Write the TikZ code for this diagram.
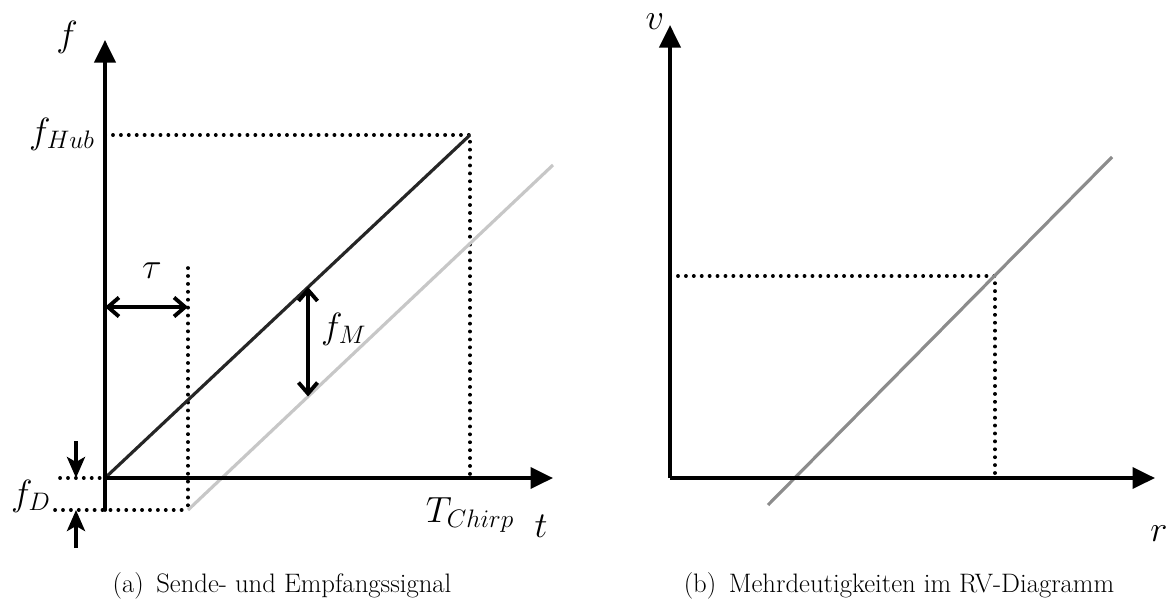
\documentclass[tikz,border=0pt]{standalone}
\usetikzlibrary{arrows.meta}

\tikzset{
  achse/.style={line width=2.2pt, -{Triangle[length=0.45cm, width=0.42cm]}},
  rampe/.style={line width=1.8pt},
  punkte/.style={line width=2.1pt, line cap=round, dash pattern=on 0.1pt off 4.4pt},
  masz/.style={line width=1.9pt, {Straight Barb[length=0.22cm, width=0.38cm, line width=2.2pt]}-{Straight Barb[length=0.22cm, width=0.38cm, line width=2.2pt]}},
  pfeil/.style={line width=2.2pt, -{Stealth[length=0.42cm, width=0.36cm, inset=0.1cm]}},
  gross/.style={font=\fontsize{21}{25}\selectfont},
  untertitel/.style={font=\fontsize{15.2}{18}\selectfont, anchor=base}
}

\begin{document}
\begin{tikzpicture}

\useasboundingbox (0,0) rectangle (23.36,12.08);

% Parameter
\def\sx{2.10}
\def\sy{2.52}

% ---------- (a) Sende- und Empfangssignal ----------
\coordinate (O) at (\sx,\sy);
\coordinate (yunten) at (\sx,1.88);
\coordinate (yoben) at (\sx,11.28);
\coordinate (xende) at (11.06,\sy);
\coordinate (hub) at (\sx,9.38);
\coordinate (spitze) at (9.40,9.38);
\coordinate (tchirp) at (9.40,\sy);
\coordinate (estart) at (3.76,1.88);
\coordinate (eende) at (11.06,8.78);
\coordinate (tauoben) at (3.76,6.72);
\coordinate (fdlinks) at (1.20,\sy);
\coordinate (fdunten) at (1.10,1.88);

% Hilfslinien
\draw[punkte] (hub) -- (spitze) -- (tchirp);
\draw[punkte] (yunten) -- (hub);
\draw[punkte] (tauoben) -- (estart);
\draw[punkte] (fdlinks) -- (O);
\draw[punkte] (fdunten) -- (estart);

% Signale
\draw[rampe, black!85] (O) -- (spitze);
\draw[rampe, black!22] (estart) -- (eende);

% Achsen
\draw[achse] (yunten) -- (yoben);
\draw[achse] (O) -- (xende);

% tau
\coordinate (taul) at (\sx,5.94);
\coordinate (taur) at (3.76,5.94);
\draw[masz] (taul) -- (taur);

% f_M
\coordinate (fmoben) at (6.16,6.34);
\coordinate (fmunten) at (6.16,4.15);
\draw[masz] (fmoben) -- (fmunten);

% f_D
\coordinate (fdpo) at (1.52,3.26);
\coordinate (fdpu) at (1.52,1.12);
\draw[pfeil] (fdpo) -- (1.52,2.52);
\draw[pfeil] (fdpu) -- (1.52,1.88);

% Beschriftung
\node[gross] (lf) at (1.34,11.34) {$f$};
\node[gross] (lhub) at (1.24,9.40) {$f_{Hub}$};
\node[gross] (ltau) at (3.04,6.66) {$\tau$};
\node[gross, anchor=west] (lfm) at (6.30,5.50) {$f_M$};
\node[gross] (lfd) at (0.62,2.16) {$f_D$};
\node[gross] (lchirp) at (9.40,1.78) {$T_{Chirp}$};
\node[gross] (lt) at (10.82,1.56) {$t$};
\node[untertitel] (capa) at (5.64,0.24) {(a)\, Sende- und Empfangssignal};

% ---------- (b) Mehrdeutigkeiten im RV-Diagramm ----------
\coordinate (P) at (13.40,\sy);
\coordinate (voben) at (13.40,11.58);
\coordinate (rende) at (23.10,\sy);
\coordinate (rvstart) at (15.36,1.98);
\coordinate (rvende) at (22.24,8.94);
\coordinate (vwert) at (13.40,6.56);
\coordinate (punkt) at (19.90,6.56);
\coordinate (rwert) at (19.90,\sy);

\draw[punkte] (vwert) -- (punkt) -- (rwert);
\draw[rampe, black!45] (rvstart) -- (rvende);
\draw[achse] (P) -- (voben);
\draw[achse] (P) -- (rende);

\node[gross] (lv) at (13.10,11.64) {$v$};
\node[gross] (lr) at (23.18,1.40) {$r$};
\node[untertitel] (capb) at (17.98,0.24) {(b)\, Mehrdeutigkeiten im RV-Diagramm};

\end{tikzpicture}
\end{document}
